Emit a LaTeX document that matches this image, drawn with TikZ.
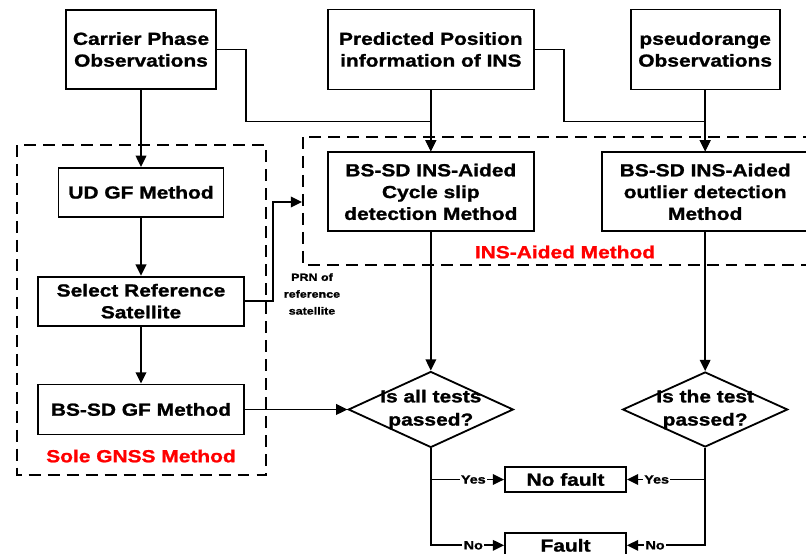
\documentclass[tikz,border=0pt]{standalone}
\usepackage{fontspec}
\setmainfont{Liberation Sans}[FakeStretch=1.2, BoldFeatures={FakeBold=1.3}]
\usepackage{xcolor}
\usetikzlibrary{positioning, arrows.meta, shapes.geometric}
\newdimen\pxu \pxu=0.025cm

\begin{document}
\begin{tikzpicture}[
  x=0.025cm, y=-0.025cm,
  box/.style={draw, line width=1.3pt, align=center, inner sep=0pt,
              font=\fontsize{12.4}{15.5}\selectfont\bfseries},
  decision/.style={draw, diamond, line width=1.3pt, inner sep=0pt,
              minimum width=165\pxu, minimum height=76\pxu},
  question/.style={align=center, font=\fontsize{12.4}{16.5}\selectfont\bfseries},
  edge/.style={-{Triangle[length=8pt, width=7.5pt]}, line width=1.3pt},
  group/.style={dash pattern=on 8.5pt off 5pt, line width=1.3pt},
  grouplabel/.style={text=red, font=\fontsize{12.4}{15}\selectfont\bfseries},
  answer/.style={fill=white, inner sep=1pt, font=\fontsize{8.5}{10}\selectfont\bfseries}
]
  \useasboundingbox (0,0) rectangle (806,553);

  % inputs
  \node[box, minimum width=150\pxu, minimum height=79\pxu] (carrier) at (141,49.5) {Carrier Phase\\Observations};
  \node[box, minimum width=206\pxu, minimum height=80\pxu, right=110\pxu of carrier] (predicted) {Predicted Position\\information of INS};
  \node[box, minimum width=149\pxu, minimum height=80\pxu, right=95\pxu of predicted] (pseudo) {pseudorange\\Observations};

  % sole GNSS branch
  \node[box, minimum width=165\pxu, minimum height=49\pxu, below=77\pxu of carrier] (udgf) {UD GF Method};
  \node[box, minimum width=206\pxu, minimum height=49\pxu, below=58\pxu of udgf] (selref) {Select Reference\\Satellite};
  \node[box, minimum width=206\pxu, minimum height=50\pxu, below=57\pxu of selref] (bsgf) {BS-SD GF Method};

  % INS-aided branch
  \node[box, minimum width=206\pxu, minimum height=79\pxu, below=61\pxu of predicted] (cycleslip) {BS-SD INS-Aided\\Cycle slip\\detection Method};
  \node[box, minimum width=207\pxu, minimum height=79\pxu, below=61\pxu of pseudo] (outlier) {BS-SD INS-Aided\\outlier detection\\Method};

  % decisions and results
  \node[decision, label={[question]center:{Is all tests\\passed?}}] (allpassed) at (cycleslip |- bsgf) {};
  \node[decision, minimum height=75\pxu, label={[question]center:{Is the test\\passed?}}] (onepassed) at (outlier |- bsgf) {};
  \node[box, minimum width=121\pxu, minimum height=25\pxu] (nofault) at (565.5,479.5) {No fault};
  \node[box, minimum width=121\pxu, minimum height=25\pxu, below=39\pxu of nofault] (fault) {Fault};

  % groups
  \draw[group] (17,145) rectangle (266,475);
  \draw[group] (303,137) rectangle (820,265);
  \node[grouplabel] (solelabel) at (141,456) {Sole GNSS Method};
  \node[grouplabel] (inslabel) at (565,252) {INS-Aided Method};
  \node[align=center, font=\fontsize{7.4}{12}\selectfont\bfseries] (prnlabel) at (312,294) {PRN of\\reference\\satellite};
  \coordinate (insentry) at (302,202);

  \draw[edge] (carrier) -- (udgf);
  \draw[edge] (udgf) -- (selref);
  \draw[edge] (selref) -- (bsgf);
  \draw[edge] (selref.east) -- ++(28,0) |- (insentry);
  \draw[edge] (bsgf) -- (allpassed.west);

  \draw[edge] (carrier.east) -- ++(29,0) -- ++(0,72) -| (cycleslip.north);
  \draw[edge] (predicted) -- (cycleslip);
  \draw[edge] (predicted.east) -- ++(29,0) -- ++(0,72) -| (outlier.north);
  \draw[edge] (pseudo) -- (outlier);
  \draw[edge] (cycleslip) -- (allpassed.north);
  \draw[edge] (outlier) -- (onepassed.north);

  \draw[edge] (allpassed.south |- nofault) -- node[answer, pos=0.58]{Yes} (nofault.west);
  \draw[edge] (allpassed.south) |- node[answer, pos=0.79]{No} (fault.west);
  \draw[edge] (onepassed.south |- nofault) -- node[answer, pos=0.62]{Yes} (nofault.east);
  \draw[edge] (onepassed.south) |- node[answer, pos=0.82]{No} (fault.east);
\end{tikzpicture}
\end{document}
